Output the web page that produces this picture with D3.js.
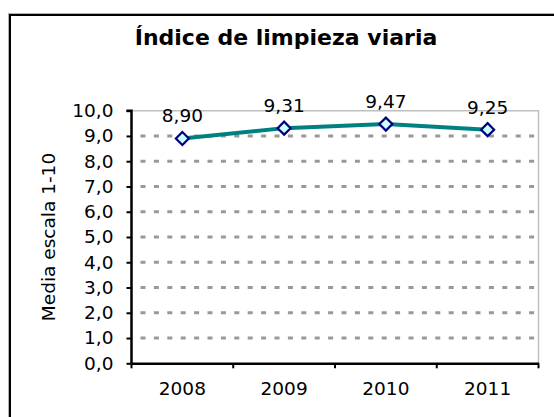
<!DOCTYPE html>
<html>
<head>
<meta charset="utf-8">
<script src="https://cdn.jsdelivr.net/npm/d3@7"></script>
<style>
  body { margin: 0; background: #fff; }
  text { font-family: "DejaVu Sans", Verdana, sans-serif; fill: #000; }
</style>
</head>
<body>
<div id="chart"></div>
<script>
// Índice de limpieza viaria, media por año
const years = ["2008", "2009", "2010", "2011"];
const scores = [8.90, 9.31, 9.47, 9.25];
const yTicks = [0, 1, 2, 3, 4, 5, 6, 7, 8, 9, 10];
const chartTitle = "Índice de limpieza viaria";
const yTitle = "Media escala 1-10";

const width = 554, height = 417;
const plot = { left: 131.5, right: 538.5, top: 110.7, bottom: 363.3 };

const comma = (v, p) => d3.format("." + p + "f")(v).replace(".", ",");

const svg = d3.select("#chart").append("svg")
  .attr("width", width)
  .attr("height", height);

// outer frame (runs off the right and bottom edge)
svg.append("rect")
  .attr("x", 8.5).attr("y", 13.5)
  .attr("width", 700).attr("height", 600)
  .attr("fill", "none").attr("stroke", "#b0b0b0").attr("stroke-width", 1);
svg.append("rect")
  .attr("x", 10).attr("y", 15)
  .attr("width", 700).attr("height", 600)
  .attr("fill", "#fff").attr("stroke", "#000").attr("stroke-width", 2);

let x = d3.scaleBand()
  .domain(years)
  .range([plot.left, plot.right])
  .padding(0);
let y = d3.scaleLinear()
  .domain([0, 10])
  .range([plot.bottom, plot.top]);

// grid lines
svg.append("g")
  .selectAll("line")
  .data(yTicks.filter((t) => t > 0 && t < 10))
  .enter().append("line")
  .attr("x1", plot.left).attr("x2", plot.right)
  .attr("y1", (d) => y(d)).attr("y2", (d) => y(d))
  .attr("stroke", "#999")
  .attr("stroke-width", 3)
  .attr("stroke-dasharray", "5,8.4")
  .attr("stroke-dashoffset", -9);

// plot area border (top / right)
svg.append("path")
  .attr("d", `M${plot.left},${y(10)}H${plot.right}V${plot.bottom}`)
  .attr("fill", "none")
  .attr("stroke", "#c0c0c0")
  .attr("stroke-width", 1.5);

// y axis
let yAxis = svg.append("g")
  .attr("transform", `translate(${plot.left},0)`)
  .call(d3.axisLeft(y).tickValues(yTicks).tickSize(5).tickPadding(13)
    .tickFormat((d) => comma(d, 1)));
yAxis.select(".domain").attr("stroke-width", 2.5).attr("d", `M-5,${y(10)}H0V${y(0)}`);
yAxis.selectAll(".tick line").attr("stroke-width", 2);
yAxis.selectAll("text")
  .style("font-size", "18.5px")
  .attr("fill", "#000");

// x axis
let xAxis = svg.append("g")
  .attr("transform", `translate(0,${plot.bottom})`)
  .call(d3.axisBottom(x).tickSize(0).tickPadding(19));
xAxis.select(".domain").attr("stroke-width", 2.5);
xAxis.selectAll("text")
  .style("font-size", "18.5px")
  .attr("fill", "#000");
// category boundary ticks
xAxis.append("g")
  .selectAll("line")
  .data(years.concat(["end"]))
  .enter().append("line")
  .attr("x1", (d, i) => i < years.length ? x(d) : x(years[years.length - 1]) + x.bandwidth())
  .attr("x2", (d, i) => i < years.length ? x(d) : x(years[years.length - 1]) + x.bandwidth())
  .attr("y1", 0).attr("y2", 5)
  .attr("stroke", "#000").attr("stroke-width", 2);

// line
let cx = (d, i) => x(years[i]) + x.bandwidth() / 2;
let line = d3.line()
  .x((d, i) => cx(d, i))
  .y((d) => y(d));
svg.append("path")
  .datum(scores)
  .attr("d", line)
  .attr("fill", "none")
  .attr("stroke", "#008080")
  .attr("stroke-width", 4);

// markers
svg.append("g")
  .selectAll("path")
  .data(scores)
  .enter().append("path")
  .attr("transform", (d, i) => `translate(${cx(d, i)},${y(d)}) rotate(45)`)
  .attr("d", "M-4.6,-4.6H4.6V4.6H-4.6Z")
  .attr("fill", "#ccffff")
  .attr("stroke", "#000080")
  .attr("stroke-width", 2.2);

// data labels
svg.append("g")
  .selectAll("text")
  .data(scores)
  .enter().append("text")
  .attr("x", (d, i) => cx(d, i))
  .attr("y", (d) => y(d) - 16)
  .attr("text-anchor", "middle")
  .style("font-size", "18.5px")
  .text((d) => comma(d, 2));

// title
svg.append("text")
  .attr("x", 286)
  .attr("y", 45)
  .attr("text-anchor", "middle")
  .style("font-size", "22px")
  .style("font-weight", "bold")
  .text(chartTitle);

// y axis title
svg.append("text")
  .attr("transform", "translate(55,237) rotate(-90)")
  .attr("text-anchor", "middle")
  .style("font-size", "18.5px")
  .text(yTitle);
</script>
</body>
</html>
